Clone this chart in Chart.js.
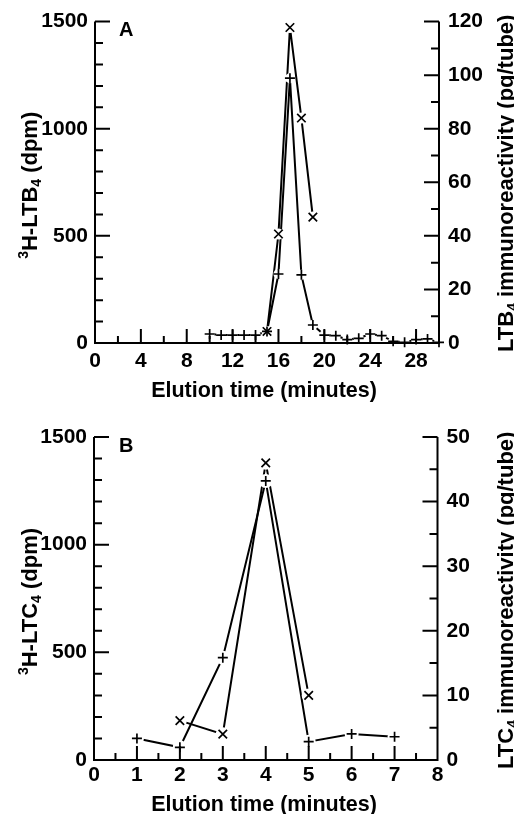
<!DOCTYPE html>
<html lang="en">
<head>
  <meta charset="UTF-8">
  <title>LTB4 / LTC4 elution profiles</title>
  <script src="https://cdn.jsdelivr.net/npm/chart.js"></script>
  <style>
    body {
      margin: 0;
      background: #ffffff;
    }
    .panel {
      position: absolute;
      left: 0;
      width: 514px;
    }
    #boxA { top: 0; height: 410px; }
    #boxB { top: 410px; height: 404px; }
  </style>
</head>
<body>

  <div class="panel" id="boxA"><canvas id="chartA"></canvas></div>
  <div class="panel" id="boxB"><canvas id="chartB"></canvas></div>

  <script>
    // ---- panel A : LTB4 ----
    const timeA = [10, 11, 12, 13, 14, 15, 16, 17, 18, 19, 20, 21, 22, 23, 24, 25, 26, 27, 28, 29, 30];
    const ltb4Dpm = [42, 37, 37, 37, 37, 54, 322, 1236, 318, 84, 37, 34, 16, 22, 42, 34, 8, 3, 16, 19, 3];
    const timeAImm = [15, 16, 17, 18, 19];
    const ltb4Imm = [4.3, 40.7, 117.8, 84, 47];
    const xTicksA = [0, 4, 8, 12, 16, 20, 24, 28];
    const y2TicksA = [0, 20, 40, 60, 80, 100, 120];

    // ---- panel B : LTC4 ----
    const timeB = [1, 2, 3, 4, 5, 6, 7];
    const ltc4Dpm = [100, 59, 475, 1296, 85, 121, 108];
    const timeBImm = [2, 3, 4, 5];
    const ltc4Imm = [6.1, 4.0, 46.0, 10.0];
    const xTicksB = [0, 1, 2, 3, 4, 5, 6, 7, 8];
    const y2TicksB = [0, 10, 20, 30, 40, 50];

    const dpmTicks = [0, 500, 1000, 1500];

    const INK = '#000000';
    const FONT = "'Liberation Sans', Arial, sans-serif";

    function pts(xs, ys) {
      return xs.map((x, i) => ({ x: x, y: ys[i] }));
    }

    // a series = line + white halo under the marker + the marker itself
    function series(data, axis, style, radius, halo) {
      return [
        { data: data, yAxisID: axis, borderColor: INK, borderWidth: 2, pointRadius: 0,
          tension: 0, order: 2, clip: false },
        { data: data, yAxisID: axis, showLine: false, pointStyle: 'circle', pointRadius: halo,
          pointBackgroundColor: '#ffffff', pointBorderWidth: 0, order: 1, clip: false },
        { data: data, yAxisID: axis, showLine: false, pointStyle: style, pointRadius: radius,
          pointBorderColor: INK, pointBorderWidth: 1.7, order: 0, clip: false }
      ];
    }

    // text with sub/superscript parts: [text, 'sup'|'sub'|undefined]
    function richWidth(ctx, parts, size) {
      let w = 0;
      parts.forEach(p => {
        ctx.font = 'bold ' + (p[1] ? Math.round(size * 0.65) : size) + 'px ' + FONT;
        w += ctx.measureText(p[0]).width;
      });
      return w;
    }
    function richDraw(ctx, parts, size, x, y) {
      parts.forEach(p => {
        const s = p[1] ? Math.round(size * 0.65) : size;
        ctx.font = 'bold ' + s + 'px ' + FONT;
        const dy = p[1] === 'sup' ? -size * 0.42 : (p[1] === 'sub' ? size * 0.2 : 0);
        ctx.fillText(p[0], x, y + dy);
        x += ctx.measureText(p[0]).width;
      });
    }

    const axisFrame = {
      id: 'axisFrame',
      afterDatasetsDraw(chart, args, o) {
        const { ctx, chartArea: a, scales } = chart;
        ctx.save();
        ctx.strokeStyle = INK;
        ctx.lineWidth = 2;
        ctx.beginPath();
        ctx.moveTo(a.left, a.top);
        ctx.lineTo(a.left, a.bottom);
        ctx.lineTo(a.right, a.bottom);
        ctx.lineTo(a.right, a.top);

        const sx = scales.x, sy = scales.y, sy2 = scales.y2;
        const isMajor = (v, m) => Math.abs(v / m - Math.round(v / m)) < 1e-6;
        for (let i = 1; sx.min + i * o.xMinor < sx.max - 1e-6; i++) {
          const v = sx.min + i * o.xMinor;
          const px = sx.getPixelForValue(v);
          ctx.moveTo(px, a.bottom);
          ctx.lineTo(px, a.bottom - (isMajor(v, o.xMajor) ? 14 : 7));
        }
        for (let i = 1; i * o.yMinor <= sy.max + 1e-6; i++) {
          const v = i * o.yMinor;
          const py = sy.getPixelForValue(v);
          ctx.moveTo(a.left, py);
          ctx.lineTo(a.left + (isMajor(v, o.yMajor) ? 15 : 8), py);
        }
        for (let i = 1; i * o.y2Minor <= sy2.max + 1e-6; i++) {
          const v = i * o.y2Minor;
          const py = sy2.getPixelForValue(v);
          ctx.moveTo(a.right, py);
          ctx.lineTo(a.right - (isMajor(v, o.y2Major) ? 15 : 8), py);
        }
        ctx.stroke();
        ctx.restore();
      },
      afterDraw(chart, args, o) {
        const { ctx, chartArea: a } = chart;
        ctx.save();
        ctx.fillStyle = INK;
        ctx.textBaseline = 'alphabetic';
        ctx.textAlign = 'left';

        // panel letter
        ctx.font = 'bold 20px ' + FONT;
        ctx.fillText(o.letter, 119, a.top + 14.5);

        // x title
        const xw = richWidth(ctx, [[o.xTitle]], 21.5);
        richDraw(ctx, [[o.xTitle]], 21.5, 264 - xw / 2, a.bottom + o.xTitleGap);

        // left title, rotated, centred on the plot
        const lw = richWidth(ctx, o.leftTitle, 22);
        ctx.save();
        ctx.translate(37, (a.top + a.bottom) / 2 + 3);
        ctx.rotate(-Math.PI / 2);
        richDraw(ctx, o.leftTitle, 22, -lw / 2, 0);
        ctx.restore();

        // right title, starts just below the x axis
        ctx.save();
        ctx.translate(513, a.bottom + 9);
        ctx.rotate(-Math.PI / 2);
        richDraw(ctx, o.rightTitle, 22, 0, 0);
        ctx.restore();

        ctx.restore();
      }
    };

    function tickFont() {
      return { family: FONT, size: 21, weight: 'bold' };
    }

    function fixTicks(values) {
      return s => { s.ticks = values.map(v => ({ value: v })); };
    }

    function makeChart(id, cfg) {
      return new Chart(document.getElementById(id), {
        type: 'line',
        data: { datasets: cfg.datasets },
        options: {
          responsive: true,
          maintainAspectRatio: false,
          animation: false,
          layout: { padding: { top: cfg.top, left: 0, right: 0, bottom: 0 } },
          plugins: {
            legend: { display: false },
            tooltip: { enabled: false },
            axisFrame: cfg.frame
          },
          scales: {
            x: {
              type: 'linear', position: 'bottom', min: 0, max: cfg.xMax,
              grid: { display: false, drawTicks: false }, border: { display: false },
              ticks: {
                autoSkip: false, maxRotation: 0, color: INK,
                font: tickFont(), padding: cfg.xPad, callback: v => String(v)
              },
              afterBuildTicks: fixTicks(cfg.xTicks),
              afterFit: s => { s.height = cfg.xHeight; }
            },
            y: {
              type: 'linear', position: 'left', min: 0, max: 1500,
              grid: { display: false, drawTicks: false }, border: { display: false },
              ticks: { color: INK, font: tickFont(), padding: 7, callback: v => String(v) },
              afterBuildTicks: fixTicks(dpmTicks),
              afterFit: s => { s.width = cfg.leftW; }
            },
            y2: {
              type: 'linear', position: 'right', min: 0, max: cfg.y2Max,
              grid: { display: false, drawTicks: false }, border: { display: false },
              ticks: { color: INK, font: tickFont(), padding: 9, callback: v => String(v) },
              afterBuildTicks: fixTicks(cfg.y2Ticks),
              afterFit: s => { s.width = cfg.rightW; }
            }
          }
        },
        plugins: [axisFrame]
      });
    }

    makeChart('chartA', {
      datasets: [].concat(
        series(pts(timeA, ltb4Dpm), 'y', 'cross', 5, 5),
        series(pts(timeAImm, ltb4Imm), 'y2', 'crossRot', 6, 5.5)
      ),
      top: 21, xHeight: 67, leftW: 95, rightW: 75,
      xMax: 30, xTicks: xTicksA, xPad: 6, y2Max: 120, y2Ticks: y2TicksA,
      frame: {
        letter: 'A', xMinor: 2, xMajor: 4, yMinor: 100, yMajor: 500, y2Minor: 10, y2Major: 20,
        xTitle: 'Elution time (minutes)', xTitleGap: 54,
        leftTitle: [['3', 'sup'], ['H-LTB'], ['4', 'sub'], [' (dpm)']],
        rightTitle: [['LTB'], ['4', 'sub'], [' immunoreactivity (pg/tube)']]
      }
    });

    makeChart('chartB', {
      datasets: [].concat(
        series(pts(timeB, ltc4Dpm), 'y', 'cross', 5, 7),
        series(pts(timeBImm, ltc4Imm), 'y2', 'crossRot', 6, 7)
      ),
      top: 27, xHeight: 54, leftW: 94, rightW: 76.5,
      xMax: 8, xTicks: xTicksB, xPad: 3, y2Max: 50, y2Ticks: y2TicksB,
      frame: {
        letter: 'B', xMinor: 0.5, xMajor: 1, yMinor: 100, yMajor: 500, y2Minor: 5, y2Major: 10,
        xTitle: 'Elution time (minutes)', xTitleGap: 51,
        leftTitle: [['3', 'sup'], ['H-LTC'], ['4', 'sub'], [' (dpm)']],
        rightTitle: [['LTC'], ['4', 'sub'], [' immunoreactivity (pg/tube)']]
      }
    });
  </script>

</body>
</html>
